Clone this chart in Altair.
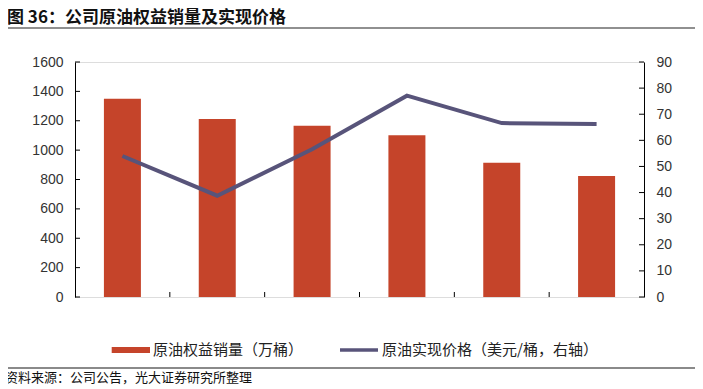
import altair as alt
import pandas as pd

years = ["2019", "2020", "2021", "2022", "2023", "2024"]
volume = [1350, 1212, 1166, 1101, 914, 824]
price = [54.0, 38.8, 56.6, 77.1, 66.6, 66.3]
left_ticks = [0, 200, 400, 600, 800, 1000, 1200, 1400, 1600]
right_ticks = [0, 10, 20, 30, 40, 50, 60, 70, 80, 90]

title_text = "图 36：公司原油权益销量及实现价格"
legend_bar = "原油权益销量（万桶）"
legend_line = "原油实现价格（美元/桶，右轴）"
source_text = "资料来源：公司公告，光大证券研究所整理"

BAR = "#C5442A"
LINE = "#58547A"
CJK = "Noto Sans CJK SC"
NUM = "Liberation Sans"

df = pd.DataFrame({"year": years, "volume": volume, "price": price})

W, H = 569, 235
xscale = alt.Scale(domain=years, paddingInner=0, paddingOuter=0)
yl = alt.Scale(domain=[0, 1600], nice=False)
yr = alt.Scale(domain=[0, 90], nice=False)

bars = alt.Chart(df).mark_bar(size=37, color=BAR).encode(
    x=alt.X("year:N", scale=xscale, sort=years,
            axis=alt.Axis(title=None, labelAngle=0, ticks=False, labelFontSize=14,
                          labelPadding=9, labelFont=NUM, labelColor="#333",
                          domainColor="#000", grid=False)),
    y=alt.Y("volume:Q", scale=yl,
            axis=alt.Axis(title=None, orient="left", values=left_ticks, ticks=False,
                          format="d", labelPadding=12, labelFontSize=14, labelFont=NUM,
                          labelColor="#333", domainColor="#000", grid=False)),
)

line = alt.Chart(df).mark_line(color=LINE, strokeWidth=4).encode(
    x=alt.X("year:N", scale=xscale, sort=years),
    y=alt.Y("price:Q", scale=yr,
            axis=alt.Axis(title=None, orient="right", values=right_ticks, ticks=False,
                          format="d", labelPadding=12, labelFontSize=14, labelFont=NUM,
                          labelColor="#333", domainColor="#000", grid=False)),
)

xt = alt.Chart(pd.DataFrame({"year": years[1:]})).mark_rule(color="#000").encode(
    x=alt.X("year:N", scale=xscale, bandPosition=0, axis=None),
    y=alt.value(H), y2=alt.value(H - 5),
)
lt = alt.Chart(pd.DataFrame({"v": left_ticks})).mark_rule(color="#000").encode(
    y=alt.Y("v:Q", scale=yl, axis=None),
    x=alt.value(0), x2=alt.value(5),
)
rt = alt.Chart(pd.DataFrame({"v": right_ticks})).mark_rule(color="#000").encode(
    y=alt.Y("v:Q", scale=yr, axis=None),
    x=alt.value(W - 5), x2=alt.value(W),
)

one = pd.DataFrame({"k": [0]})

title = alt.Chart(pd.DataFrame({"t": [title_text]})).mark_text(
    align="left", baseline="middle", fontSize=17, fontWeight="bold", font=CJK, color="#111"
).encode(x=alt.value(-68), y=alt.value(-44), text="t:N")

title_rule = alt.Chart(one).mark_rule(color="#222", strokeWidth=1.2).encode(
    x=alt.value(-70), x2=alt.value(622), y=alt.value(-34)
)

leg_rect = alt.Chart(one).mark_rect(color=BAR).encode(
    x=alt.value(36.7), x2=alt.value(75), y=alt.value(285), y2=alt.value(291)
)
leg_t1 = alt.Chart(pd.DataFrame({"t": [legend_bar]})).mark_text(
    align="left", baseline="middle", fontSize=15, font=CJK, color="#222"
).encode(x=alt.value(78), y=alt.value(288), text="t:N")
leg_line = alt.Chart(one).mark_rule(color=LINE, strokeWidth=3.5).encode(
    x=alt.value(265), x2=alt.value(303), y=alt.value(288)
)
leg_t2 = alt.Chart(pd.DataFrame({"t": [legend_line]})).mark_text(
    align="left", baseline="middle", fontSize=15, font=CJK, color="#222"
).encode(x=alt.value(307), y=alt.value(288), text="t:N")

foot_rule = alt.Chart(one).mark_rule(color="#8a8a8a", strokeWidth=2).encode(
    x=alt.value(-70), x2=alt.value(622), y=alt.value(306)
)
source = alt.Chart(pd.DataFrame({"t": [source_text]})).mark_text(
    align="left", baseline="middle", fontSize=13, font=CJK, color="#111"
).encode(x=alt.value(-70), y=alt.value(315.5), text="t:N")

chart = alt.layer(
    bars, line, xt, lt, rt, title, title_rule, leg_rect, leg_t1, leg_line, leg_t2,
    foot_rule, source
).resolve_scale(y="independent").properties(
    width=W, height=H,
    autosize=alt.AutoSizeParams(type="none"),
    padding={"left": 67, "top": 54, "right": 51, "bottom": 92},
).configure_view(stroke=None).configure(background="white")

chart.save("out.html", embed_options={"renderer": "svg", "actions": False})
